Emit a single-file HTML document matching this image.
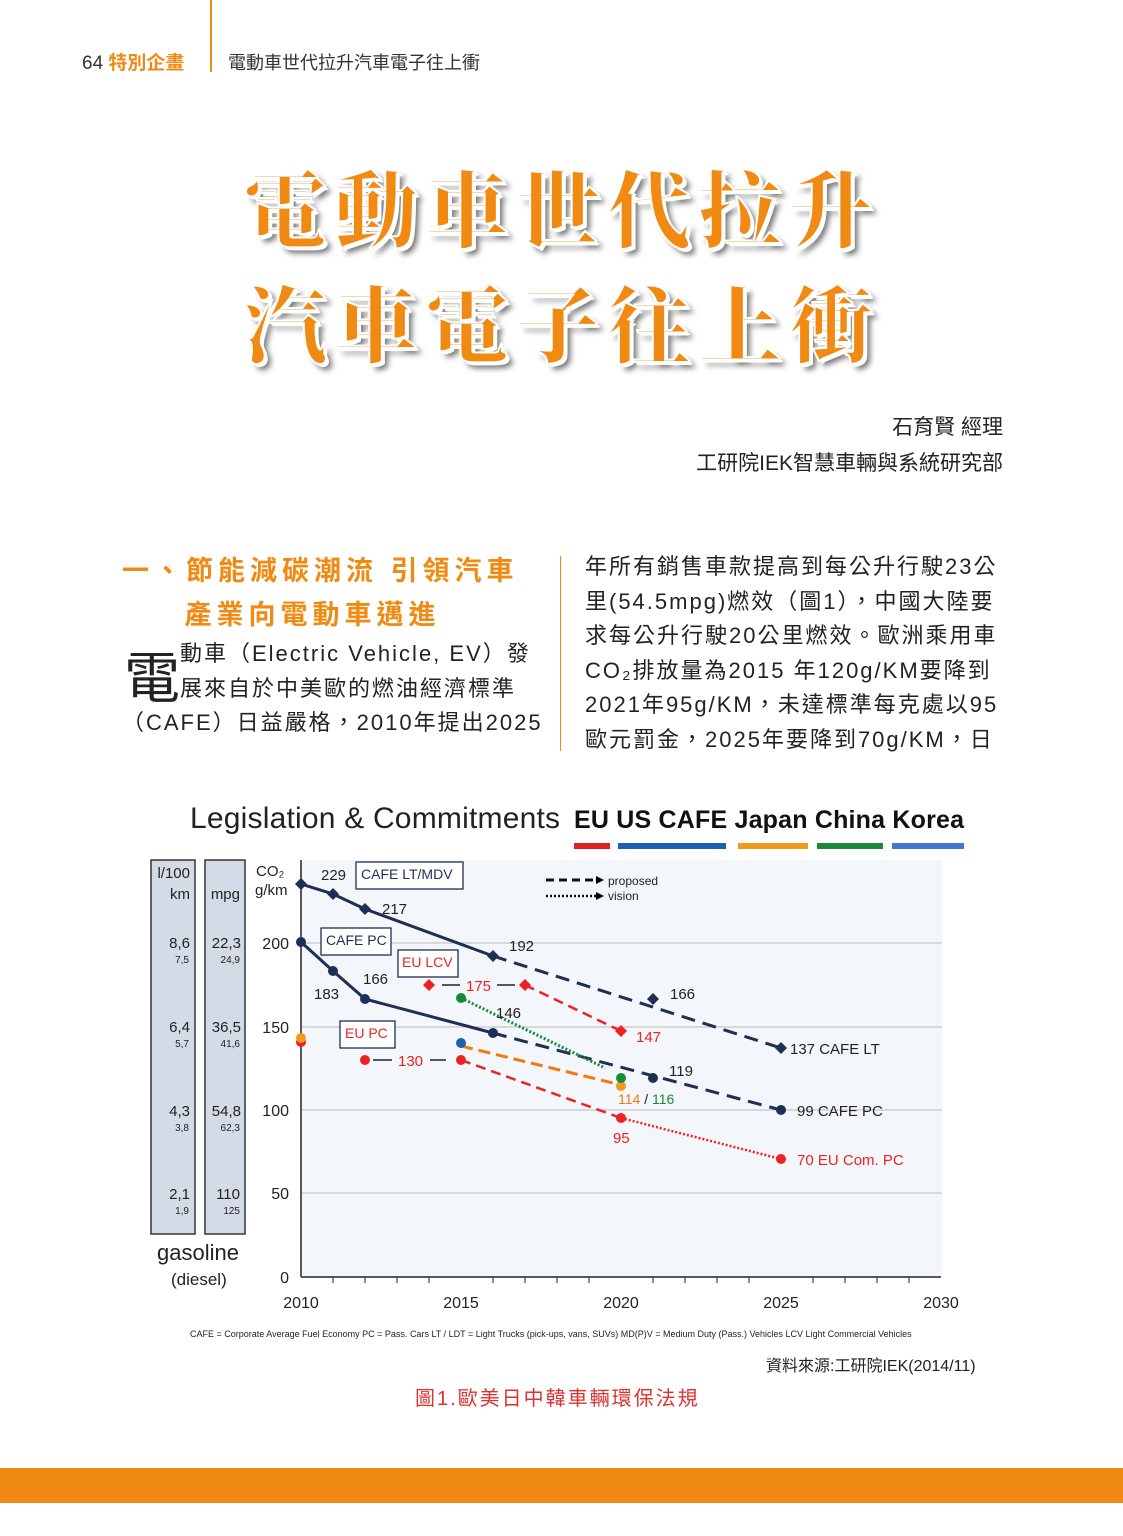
<!DOCTYPE html>
<html><head><meta charset="utf-8"><style>
body{margin:0;width:1123px;height:1536px;background:#fff;overflow:hidden;position:relative;font-family:"Liberation Sans","Noto Sans CJK TC",sans-serif}
.a{position:absolute;white-space:nowrap}
.t{font-family:"Noto Serif CJK SC","Noto Sans CJK TC",serif;font-weight:900;color:#f08a12;font-size:84px;letter-spacing:7px;text-shadow:3px 3px 0 #fff,6px 6px 6px #777;-webkit-text-stroke:2px #fff}
.b{font-size:22px;color:#222;letter-spacing:2px;line-height:34.5px}
</style></head><body>
<div class="a" style="left:82px;top:48px;font-size:19px;color:#333">64 <b style="color:#f08a12">特別企畫</b></div>
<div class="a" style="left:210px;top:0;width:2px;height:72px;background:#f08a12"></div>
<div class="a" style="left:228px;top:49px;font-size:18px;color:#333">電動車世代拉升汽車電子往上衝</div>
<div class="a t" style="left:243px;top:145px">電動車世代拉升</div>
<div class="a t" style="left:243px;top:260px">汽車電子往上衝</div>
<div class="a" style="right:120px;top:410px;font-size:21px;color:#222;text-align:right;line-height:36px">石育賢 經理<br>工研院IEK智慧車輛與系統研究部</div>
<div class="a" style="left:122px;top:549px;font-size:27px;color:#f08a12;font-weight:bold;letter-spacing:5px;line-height:44px">一、節能減碳潮流 引領汽車<br>&nbsp;&nbsp;&nbsp;&nbsp;&nbsp;產業向電動車邁進</div>
<div class="a" style="left:124px;top:634px;font-size:56px;color:#222">電</div>
<div class="a b" style="left:180px;top:637px">動車（Electric Vehicle, EV）發<br>展來自於中美歐的燃油經濟標準</div>
<div class="a b" style="left:122px;top:706px">（CAFE）日益嚴格，2010年提出2025</div>
<div class="a" style="left:560px;top:556px;width:1px;height:195px;background:#f08a12"></div>
<div class="a b" style="left:585px;top:550px">年所有銷售車款提高到每公升行駛23公<br>里(54.5mpg)燃效（圖1），中國大陸要<br>求每公升行駛20公里燃效。歐洲乘用車<br>CO₂排放量為2015 年120g/KM要降到<br>2021年95g/KM，未達標準每克處以95<br>歐元罰金，2025年要降到70g/KM，日</div>
<svg class="a" style="left:0;top:780px" width="1123" height="660" viewBox="0 780 1123 660" font-family="Liberation Sans,sans-serif">
<text x="190" y="828" font-size="30" fill="#222" textLength="370">Legislation &amp; Commitments</text>
<text x="574" y="828" font-size="25" font-weight="bold" fill="#111" textLength="390">EU US CAFE Japan China Korea</text>
<rect x="574" y="843" width="36" height="6" fill="#d22"/><rect x="618" y="843" width="108" height="6" fill="#1f5fb0"/><rect x="738" y="843" width="70" height="6" fill="#f39a1e"/><rect x="817" y="843" width="66" height="6" fill="#1a8a3a"/><rect x="892" y="843" width="72" height="6" fill="#4477cc"/>
<rect x="302" y="860" width="640" height="417" fill="#f3f6fa"/>
<rect x="151" y="860" width="44" height="374" fill="#d5dbe6" stroke="#333" stroke-width="1.5"/>
<rect x="205" y="860" width="40" height="374" fill="#d5dbe6" stroke="#333" stroke-width="1.5"/>
<g font-size="15" fill="#222" text-anchor="end"><text x="190" y="878">l/100</text><text x="190" y="899">km</text><text x="240" y="899">mpg</text>
<text x="190" y="948">8,6</text><text x="241" y="948">22,3</text><text x="190" y="1032">6,4</text><text x="241" y="1032">36,5</text><text x="190" y="1116">4,3</text><text x="241" y="1116">54,8</text><text x="190" y="1199">2,1</text><text x="240" y="1199">110</text></g>
<g font-size="10" fill="#222" text-anchor="end"><text x="189" y="963">7,5</text><text x="240" y="963">24,9</text><text x="189" y="1047">5,7</text><text x="240" y="1047">41,6</text><text x="189" y="1131">3,8</text><text x="240" y="1131">62,3</text><text x="189" y="1214">1,9</text><text x="240" y="1214">125</text></g>
<text x="157" y="1260" font-size="22" fill="#222">gasoline</text><text x="171" y="1285" font-size="17" fill="#222">(diesel)</text>
<text x="256" y="876" font-size="15" fill="#222">CO₂</text><text x="255" y="895" font-size="15" fill="#222">g/km</text>
<g stroke="#bbb" stroke-width="1"><line x1="302" y1="943" x2="942" y2="943"/><line x1="302" y1="1027" x2="942" y2="1027"/><line x1="302" y1="1110" x2="942" y2="1110"/><line x1="302" y1="1193" x2="942" y2="1193"/></g>
<g stroke="#222" stroke-width="1.5"><line x1="301" y1="860" x2="301" y2="1277"/><line x1="301" y1="1277" x2="941" y2="1277"/></g>
<g font-size="16" fill="#222" text-anchor="end"><text x="289" y="949">200</text><text x="289" y="1033">150</text><text x="289" y="1116">100</text><text x="289" y="1199">50</text><text x="289" y="1283">0</text></g>
<g font-size="16" fill="#222" text-anchor="middle"><text x="301" y="1308">2010</text><text x="461" y="1308">2015</text><text x="621" y="1308">2020</text><text x="781" y="1308">2025</text><text x="941" y="1308">2030</text></g>
<g stroke="#222"><line x1="333" y1="1277" x2="333" y2="1283"/><line x1="365" y1="1277" x2="365" y2="1283"/><line x1="397" y1="1277" x2="397" y2="1283"/><line x1="429" y1="1277" x2="429" y2="1283"/><line x1="493" y1="1277" x2="493" y2="1283"/><line x1="525" y1="1277" x2="525" y2="1283"/><line x1="557" y1="1277" x2="557" y2="1283"/><line x1="589" y1="1277" x2="589" y2="1283"/><line x1="653" y1="1277" x2="653" y2="1283"/><line x1="685" y1="1277" x2="685" y2="1283"/><line x1="717" y1="1277" x2="717" y2="1283"/><line x1="749" y1="1277" x2="749" y2="1283"/><line x1="813" y1="1277" x2="813" y2="1283"/><line x1="845" y1="1277" x2="845" y2="1283"/><line x1="877" y1="1277" x2="877" y2="1283"/><line x1="909" y1="1277" x2="909" y2="1283"/></g>
<g fill="none" stroke="#1e2e55" stroke-width="3">
<polyline points="301,884 333,894 365,909 493,956"/><polyline points="493,956 781,1048" stroke-dasharray="14,8"/>
<polyline points="301,942 333,971 365,999 493,1033"/><polyline points="493,1033 781,1110" stroke-dasharray="14,8"/></g>
<g fill="none" stroke-width="2.5"><polyline points="525,985 621,1031" stroke="#e22" stroke-dasharray="10,6"/>
<polyline points="461,1060 621,1118" stroke="#e22" stroke-dasharray="10,6"/><polyline points="621,1118 781,1159" stroke="#e22" stroke-dasharray="2,2"/>
<polyline points="461,998 605,1068" stroke="#1a8a3a" stroke-dasharray="2,2" stroke-width="3"/><polyline points="461,1046 613,1083" stroke="#f07a10" stroke-dasharray="12,6" stroke-width="3"/></g>
<g fill="#1e2e55"><circle cx="301" cy="942" r="5"/><circle cx="333" cy="971" r="5"/><circle cx="365" cy="999" r="5"/><circle cx="493" cy="1033" r="5"/><circle cx="653" cy="1078" r="5"/><circle cx="781" cy="1110" r="5"/>
<path d="M301 878l6 6-6 6-6-6z"/><path d="M333 888l6 6-6 6-6-6z"/><path d="M365 903l6 6-6 6-6-6z"/><path d="M493 950l6 6-6 6-6-6z"/><path d="M653 993l6 6-6 6-6-6z"/><path d="M781 1042l6 6-6 6-6-6z"/></g>
<g fill="#e22"><circle cx="365" cy="1060" r="5"/><circle cx="461" cy="1060" r="5"/><circle cx="621" cy="1118" r="5"/><circle cx="781" cy="1159" r="5"/><circle cx="301" cy="1042" r="5"/>
<path d="M429 979l6 6-6 6-6-6z"/><path d="M525 979l6 6-6 6-6-6z"/><path d="M621 1025l6 6-6 6-6-6z"/></g>
<circle cx="301" cy="1038" r="5" fill="#f39a1e"/><circle cx="461" cy="1043" r="5" fill="#1f5fb0"/><circle cx="461" cy="998" r="5" fill="#1a8a3a"/><circle cx="621" cy="1086" r="5" fill="#f39a1e"/><circle cx="621" cy="1078" r="5" fill="#1a8a3a"/>
<g font-size="15" fill="#222"><text x="321" y="880">229</text><text x="382" y="914">217</text><text x="509" y="951">192</text><text x="670" y="999">166</text><text x="363" y="984">166</text><text x="314" y="999">183</text><text x="496" y="1018">146</text><text x="669" y="1076">119</text><text x="790" y="1054">137  CAFE LT</text><text x="797" y="1116">99  CAFE PC</text>
<text x="608" y="885" font-size="12">proposed</text><text x="608" y="900" font-size="12">vision</text></g>
<g font-size="15" fill="#e22"><text x="466" y="991">175</text><text x="636" y="1042">147</text><text x="398" y="1066">130</text><text x="613" y="1143">95</text><text x="797" y="1165">70  EU Com. PC</text></g>
<text x="618" y="1104" font-size="14" fill="#f07a10">114 <tspan fill="#222">/</tspan> <tspan fill="#1a8a3a">116</tspan></text>
<g stroke="#222" stroke-width="1.5"><line x1="373" y1="1060" x2="392" y2="1060"/><line x1="430" y1="1060" x2="446" y2="1060"/><line x1="442" y1="985" x2="460" y2="985"/><line x1="497" y1="985" x2="515" y2="985"/></g>
<g fill="#fff" stroke="#1e2e55" stroke-width="1.3"><rect x="356" y="862" width="107" height="27"/><rect x="321" y="928" width="70" height="27"/><rect x="398" y="950" width="60" height="27"/><rect x="340" y="1021" width="55" height="27"/></g>
<g font-size="14" fill="#1e2e55"><text x="361" y="879">CAFE  LT/MDV</text><text x="326" y="945">CAFE PC</text></g>
<g font-size="14" fill="#e22"><text x="402" y="967">EU LCV</text><text x="345" y="1038">EU PC</text></g>
<line x1="546" y1="880" x2="596" y2="880" stroke="#111" stroke-width="3" stroke-dasharray="8,5"/><path d="M596 876L604 880 596 884Z"/>
<line x1="546" y1="896" x2="596" y2="896" stroke="#111" stroke-width="2.5" stroke-dasharray="2,2"/><path d="M596 892L604 896 596 900Z"/>
<text x="190" y="1337" font-size="9" fill="#222">CAFE = Corporate Average Fuel Economy  PC = Pass. Cars  LT / LDT = Light Trucks (pick-ups, vans, SUVs)  MD(P)V = Medium Duty (Pass.) Vehicles  LCV Light Commercial Vehicles</text>
</svg>
<div class="a" style="left:766px;top:1352px;font-size:16px;color:#222">資料來源:工研院IEK(2014/11)</div>
<div class="a" style="left:415px;top:1382px;font-size:20px;color:#e03030;letter-spacing:2px">圖1.歐美日中韓車輛環保法規</div>
<div class="a" style="left:0;top:1468px;width:1123px;height:35px;background:#f08a12"></div>
</body></html>
